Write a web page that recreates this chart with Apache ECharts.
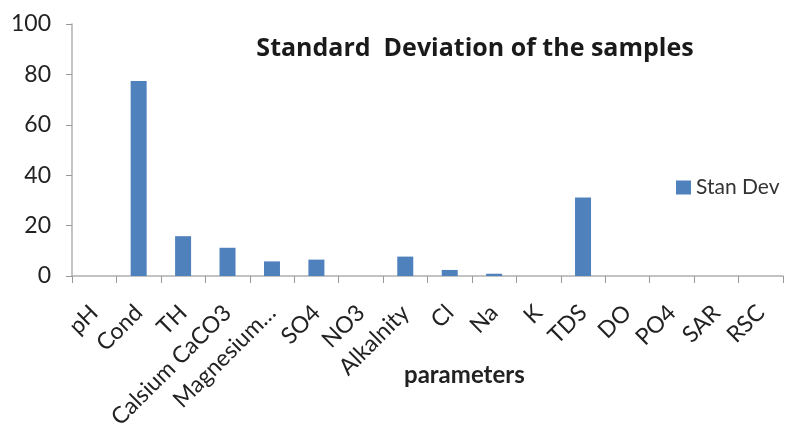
<!DOCTYPE html>
<html><head><meta charset="utf-8">
<script src="https://cdn.jsdelivr.net/npm/echarts@6/dist/echarts.min.js"></script>
<style>html,body{margin:0;padding:0;background:#fff}#c{width:790px;height:437px}</style>
</head><body><div id="c"></div>
<script>
const categories = ["pH","Cond","TH","Calsium CaCO3","Magnesium\u2026","SO4","NO3","Alkalnity","Cl","Na","K","TDS","DO","PO4","SAR","RSC"];
const stanDev = [0, 77.4, 15.8, 11.2, 5.8, 6.5, 0, 7.7, 2.4, 0.9, 0, 31.2, 0, 0, 0, 0];
const yTicks = [0, 20, 40, 60, 80, 100];
const font = "Lato, 'Open Sans', sans-serif";
const chart = echarts.init(document.getElementById('c'));
chart.setOption({
  animation: false,
  title: { text: 'Standard  Deviation of the samples', left: 470, top: 31, textAlign: 'center',
    textStyle: { fontFamily: "'Open Sans', sans-serif", fontSize: 25, fontWeight: 'bold', color: '#1a1a1a' } },
  legend: { data: ['Stan Dev'], left: 671, top: 172, itemWidth: 15, itemHeight: 14, itemGap: 7,
    icon: 'rect', textStyle: { fontFamily: font, fontSize: 21, color: '#333' } },
  grid: { left: 72, top: 24, right: 7, bottom: 161, containLabel: false },
  graphic: [{ type: 'text', left: 404, top: 363,
    style: { text: 'parameters', fontFamily: font, fontSize: 24, fontWeight: 'bold', fill: '#222' } }],
  xAxis: { type: 'category', data: categories,
    axisLine: { lineStyle: { color: '#b0b0b0', width: 1.5 } },
    axisTick: { show: true, alignWithLabel: false, length: 7, lineStyle: { color: '#999' } },
    axisLabel: { rotate: 45, interval: 0, fontFamily: font, fontSize: 23, color: '#222', margin: 33 } },
  yAxis: { type: 'value', min: 0, max: 100, interval: 20,
    axisLine: { show: true, lineStyle: { color: '#b0b0b0', width: 1.5 } },
    axisTick: { show: true, length: 6, lineStyle: { color: '#999' } },
    splitLine: { show: false },
    axisLabel: { fontFamily: font, fontSize: 23, color: '#222', margin: 21,
      formatter: v => yTicks.includes(v) ? String(v) : '' } },
  series: [{ name: 'Stan Dev', type: 'bar', data: stanDev, barWidth: 16,
    itemStyle: { color: '#4f81bd' } }]
});
</script></body></html>
